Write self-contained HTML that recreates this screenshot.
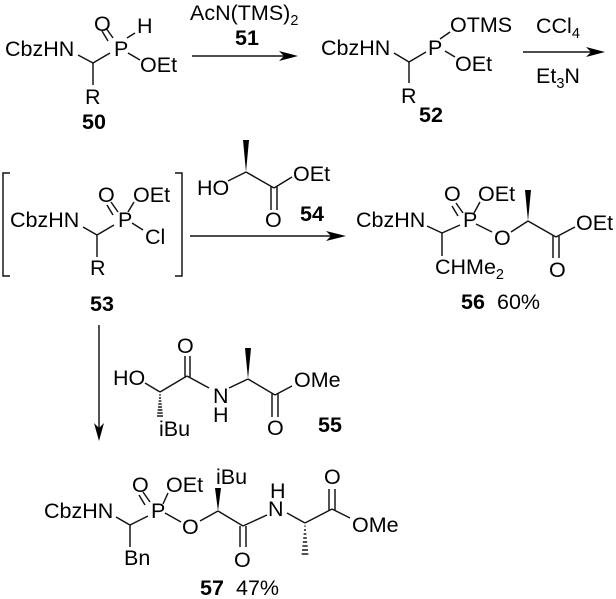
<!DOCTYPE html>
<html><head><meta charset="utf-8"><style>
html,body{margin:0;padding:0;background:#fff}
svg{display:block}
text{font-family:"Liberation Sans",sans-serif;font-size:21.5px;fill:#000}
.b{font-weight:bold}
.s{font-size:14.5px}
line,polyline{stroke:#111;stroke-width:1.45;fill:none}
polygon{fill:#000}
.h{stroke-width:1.2}
</style></head><body>
<svg width="616" height="599" viewBox="0 0 616 599" xmlns="http://www.w3.org/2000/svg">
<!-- 50 -->
<text x="5" y="56">CbzHN</text><text x="114" y="56">P</text><text x="94" y="31">O</text><text x="137" y="33">H</text><text x="140" y="72">OEt</text><text x="85" y="104">R</text><text x="82" y="129" class="b">50</text>
<line x1="78" y1="55" x2="93" y2="63"/><line x1="93" y1="63" x2="110" y2="53"/><line x1="93" y1="63" x2="93" y2="85"/>
<line x1="113" y1="38" x2="106" y2="28"/><line x1="108" y1="41" x2="102" y2="31"/><line x1="127" y1="38" x2="135" y2="33"/><line x1="128" y1="53" x2="140" y2="60"/>
<!-- arrow 1 -->
<text x="190" y="20">AcN(TMS)<tspan class="s" dy="5">2</tspan></text><text x="235" y="45" class="b">51</text>
<line x1="192" y1="56" x2="285" y2="56"/><polygon points="298,56 279,51 284,56 279,61"/>
<!-- 52 -->
<text x="321" y="55">CbzHN</text><text x="428" y="55">P</text><text x="450" y="32">OTMS</text><text x="455" y="71">OEt</text><text x="401" y="103">R</text><text x="419" y="122" class="b">52</text>
<line x1="394" y1="53" x2="409" y2="62"/><line x1="409" y1="62" x2="426" y2="52"/><line x1="409" y1="62" x2="409" y2="83"/><line x1="440" y1="39" x2="450" y2="32"/><line x1="445" y1="51" x2="455" y2="57"/>
<!-- arrow 2 -->
<text x="536" y="33">CCl<tspan class="s" dy="5">4</tspan></text><text x="536" y="83">Et<tspan class="s" dy="5">3</tspan><tspan dy="-5">N</tspan></text>
<line x1="523" y1="52" x2="595" y2="52"/><polygon points="605,52 586,47 591,52 586,57"/>
<!-- 53 -->
<polyline points="10,173 3,173 3,276 10,276"/><polyline points="175,173 182,173 182,276 175,276"/>
<text x="10" y="227">CbzHN</text><text x="118" y="227">P</text><text x="98" y="202">O</text><text x="133" y="202">OEt</text><text x="145" y="244">Cl</text><text x="90" y="275">R</text><text x="90" y="311" class="b">53</text>
<line x1="83" y1="227" x2="97" y2="235"/><line x1="97" y1="235" x2="114" y2="225"/><line x1="97" y1="235" x2="97" y2="257"/>
<line x1="118" y1="212" x2="111" y2="202"/><line x1="113" y1="215" x2="107" y2="205"/><line x1="128" y1="212" x2="134" y2="202"/><line x1="132" y1="223" x2="143" y2="230"/>
<!-- 54 -->
<text x="197" y="195">HO</text><text x="293" y="181">OEt</text><text x="265" y="227">O</text><text x="300" y="221" class="b">54</text>
<polygon points="246,172 243,140 249,140"/>
<line x1="228" y1="181" x2="246" y2="172"/><line x1="246" y1="172" x2="274" y2="188"/><line x1="274" y1="188" x2="292" y2="177"/>
<line x1="271" y1="186" x2="271" y2="210"/><line x1="277" y1="186" x2="277" y2="210"/>
<!-- arrow 3 -->
<line x1="190" y1="236" x2="335" y2="236"/><polygon points="346,236 326,231 331,236 326,241"/>
<!-- 56 -->
<text x="356" y="227">CbzHN</text><text x="463" y="227">P</text><text x="444" y="201">O</text><text x="478" y="201">OEt</text><text x="494" y="245">O</text><text x="576" y="230">OEt</text><text x="549" y="277">O</text>
<text x="435" y="274">CHMe<tspan class="s" dy="5">2</tspan></text><text x="461" y="309" class="b">56</text><text x="497" y="309">60%</text>
<line x1="427" y1="226" x2="442" y2="233"/><line x1="442" y1="233" x2="460" y2="225"/><line x1="442" y1="233" x2="442" y2="256"/>
<line x1="463" y1="213" x2="456" y2="203"/><line x1="458" y1="216" x2="452" y2="206"/><line x1="474" y1="213" x2="480" y2="202"/><line x1="476" y1="224" x2="492" y2="232"/><line x1="511" y1="232" x2="528" y2="221"/><line x1="528" y1="221" x2="556" y2="237"/><line x1="556" y1="237" x2="575" y2="227"/>
<line x1="553" y1="236" x2="553" y2="258"/><line x1="559" y1="236" x2="559" y2="258"/>
<polygon points="528,221 525,190 531,190"/>
<!-- arrow down -->
<line x1="99" y1="325" x2="99" y2="430"/><polygon points="99,441 94,423 99,428 104,423"/>
<!-- 55 -->
<text x="113" y="385">HO</text><text x="177" y="353">O</text><text x="213" y="403">N</text><text x="213" y="422">H</text><text x="294" y="387">OMe</text><text x="267" y="435">O</text><text x="159" y="436">iBu</text><text x="318" y="432" class="b">55</text>
<line x1="145" y1="383" x2="160" y2="392"/><line x1="160" y1="392" x2="187" y2="376"/><line x1="187" y1="376" x2="209" y2="388"/><line x1="229" y1="388" x2="248" y2="379"/><line x1="248" y1="379" x2="275" y2="395"/><line x1="275" y1="395" x2="292" y2="386"/>
<line x1="185" y1="377" x2="185" y2="356"/><line x1="190" y1="377" x2="190" y2="356"/><line x1="272" y1="394" x2="272" y2="417"/><line x1="278" y1="394" x2="278" y2="417"/>
<polygon points="248,379 245,348 251,348"/>
<g class="h"><line x1="159.3" y1="395" x2="160.7" y2="395"/><line x1="159" y1="398" x2="161" y2="398"/><line x1="158.7" y1="401" x2="161.3" y2="401"/><line x1="158.3" y1="404" x2="161.7" y2="404"/><line x1="158" y1="407" x2="162" y2="407"/><line x1="157.6" y1="410" x2="162.4" y2="410"/><line x1="157.3" y1="413" x2="162.7" y2="413"/><line x1="157" y1="416" x2="163" y2="416"/></g>
<!-- 57 -->
<text x="44" y="518">CbzHN</text><text x="151" y="518">P</text><text x="132" y="492">O</text><text x="166" y="492">OEt</text><text x="182" y="534">O</text><text x="124" y="565">Bn</text><text x="216" y="484">iBu</text><text x="270" y="498">H</text><text x="268" y="516">N</text><text x="234" y="567">O</text><text x="324" y="484">O</text><text x="352" y="532">OMe</text><text x="200" y="595" class="b">57</text><text x="236" y="595">47%</text>
<line x1="116" y1="517" x2="130" y2="525"/><line x1="130" y1="525" x2="148" y2="516"/><line x1="130" y1="525" x2="130" y2="547"/>
<line x1="150" y1="502" x2="143" y2="492"/><line x1="145" y1="505" x2="139" y2="495"/><line x1="163" y1="504" x2="168" y2="493"/><line x1="165" y1="513" x2="181" y2="522"/><line x1="200" y1="521" x2="218" y2="511"/><line x1="218" y1="511" x2="243" y2="526"/><line x1="243" y1="526" x2="267" y2="515"/><line x1="287" y1="513" x2="305" y2="523"/><line x1="305" y1="523" x2="332" y2="509"/><line x1="332" y1="509" x2="350" y2="518"/>
<line x1="240" y1="526" x2="240" y2="547"/><line x1="246" y1="526" x2="246" y2="547"/><line x1="329" y1="510" x2="329" y2="489"/><line x1="335" y1="510" x2="335" y2="489"/>
<polygon points="218,511 215,488 221,488"/>
<g class="h"><line x1="304.4" y1="526" x2="305.6" y2="526"/><line x1="304" y1="530" x2="306" y2="530"/><line x1="303.6" y1="534" x2="306.4" y2="534"/><line x1="303.2" y1="538" x2="306.8" y2="538"/><line x1="302.8" y1="542" x2="307.2" y2="542"/><line x1="302.4" y1="546" x2="307.6" y2="546"/><line x1="302" y1="550" x2="308" y2="550"/><line x1="301.6" y1="554" x2="308.4" y2="554"/></g>
</svg>
</body></html>
